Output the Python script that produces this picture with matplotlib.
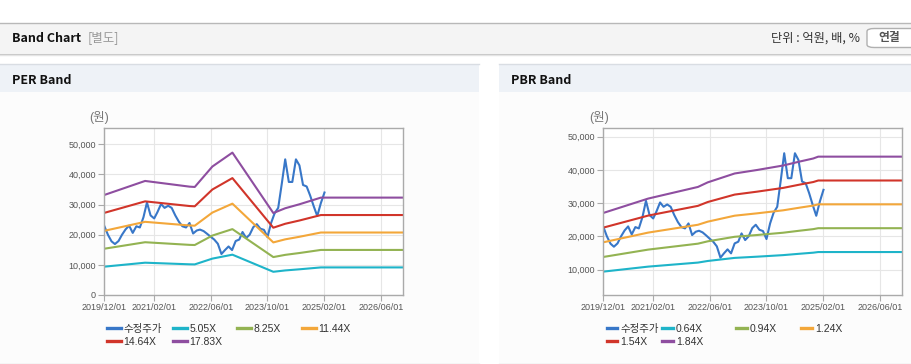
"""PER / PBR band chart."""
import matplotlib
matplotlib.use('Agg')
import matplotlib.pyplot as plt
import matplotlib.dates as mdates
from matplotlib.legend import Legend
from matplotlib.patches import Rectangle, FancyBboxPatch
from matplotlib.ticker import FuncFormatter
import pandas as pd

W, H = 912, 364

# adjusted price, monthly 2019/12 .. 2025/02
price_dates = pd.date_range('2019-12-01', '2025-02-01', freq='MS')
price = [22900, 20000, 17800, 16900, 17900, 20000, 21800, 23000, 20600, 22800,
         22400, 25800, 30700, 26400, 25400, 27500, 30200, 28900, 29600, 28900,
         26400, 24300, 22800, 22400, 23900, 20400, 21400, 21700, 21200, 20300,
         19300, 18400, 17000, 13600, 14900, 16100, 14900, 17900, 18400, 20900,
         18900, 20000, 22500, 23500, 22000, 21600, 19200, 23900, 27100, 28900,
         37000, 45000, 37500, 37500, 45000, 43000, 36500, 36000, 33000, 29400,
         26200, 30500, 34000]

# EPS used for the PER band
eps_dates = pd.to_datetime(['2019-12-01', '2020-11-15', '2021-12-01', '2022-01-15',
                            '2022-06-15', '2022-12-04', '2023-11-20', '2024-03-01',
                            '2024-07-01', '2024-10-01', '2025-01-01', '2026-12-01'])
eps = [1861, 2122, 2016, 2010, 2390, 2649, 1525, 1614, 1688, 1750, 1812, 1812]
per_mult = [5.05, 8.25, 11.44, 14.64, 17.83]

# BPS used for the PBR band
bps_dates = pd.to_datetime(['2019-12-01', '2020-12-20', '2022-02-20', '2022-05-15',
                            '2023-01-01', '2023-07-12', '2024-02-20', '2024-07-12',
                            '2024-11-05', '2024-12-18', '2026-12-01'])
bps = [14700, 17050, 18950, 19700, 21150, 21720, 22450, 23100, 23600, 23900, 23900]
pbr_mult = [0.64, 0.94, 1.24, 1.54, 1.84]

xticks = pd.to_datetime(['2019-12-01', '2021-02-01', '2022-06-01', '2023-10-01',
                         '2025-02-01', '2026-06-01'])

PRICE_C = '#3877c8'
BAND_C = ['#1eb4c9', '#93b352', '#f3a73a', '#d1352a', '#8e4ea0']

plt.rcParams['font.family'] = ['Liberation Sans', 'Noto Sans CJK KR', 'DejaVu Sans']

fig = plt.figure(figsize=(W / 100, H / 100), dpi=100)
fig.patch.set_facecolor('white')


def fx(px):
    return px / W


def fy(py):
    return 1 - py / H


def hline(y, x0, x1, color, lw=1.0):
    fig.add_artist(plt.Line2D([fx(x0), fx(x1)], [fy(y), fy(y)], color=color, lw=lw, zorder=-1))


def box(x0, y0, x1, y1, color):
    fig.patches.append(Rectangle((fx(x0), fy(y1)), fx(x1 - x0), fy(y0) - fy(y1),
                                 transform=fig.transFigure, facecolor=color,
                                 edgecolor='none', zorder=-5))


# page header bar
box(0, 23, W, 53, '#f4f4f4')
hline(22.5, 0, W, '#b8b8b8')
hline(53.5, 0, W, '#c4c4c4')
hline(54.5, 0, W, '#e4e4e4')
fig.text(fx(12), fy(38), 'Band Chart', fontsize=9, fontweight='bold',
         family=['Noto Sans CJK KR'], va='center', ha='left', color='#111111')
fig.text(fx(88), fy(38), '[별도]', fontsize=9, family=['Noto Sans CJK KR'],
         va='center', ha='left', color='#999999')
fig.text(fx(860), fy(38), '단위 : 억원, 배, %', fontsize=8.8, family=['Noto Sans CJK KR'],
         va='center', ha='right', color='#333333')
fig.patches.append(FancyBboxPatch((fx(867), fy(47.5)), fx(60), fy(28.5) - fy(47.5),
                                  boxstyle='round,pad=0,rounding_size=0.008',
                                  transform=fig.transFigure, facecolor='white',
                                  edgecolor='#b0b0b0', lw=1, zorder=-1))
fig.text(fx(889), fy(38), '연결', fontsize=8.5, fontweight='bold', family=['Noto Sans CJK KR'],
         va='center', ha='center', color='#555555')

# panels
for x0, x1, title in [(0, 479, 'PER Band'), (499, W, 'PBR Band')]:
    box(x0, 64, x1, 92, '#eef2f7')
    box(x0, 92, x1, 363, '#fcfcfc')
    hline(64, x0, x1, '#d9dde3')
    hline(363.5, x0, x1, '#cfcfcf')
    fig.text(fx(x0 + 12), fy(80), title, fontsize=9, fontweight='bold',
             family=['Noto Sans CJK KR'], va='center', ha='left', color='#111111')


def draw_band(ax_px, base_dates, base, mults, ylim, yticks, unit_x, leg_x, hlen):
    left, right = ax_px
    ax = fig.add_axes([fx(left), fy(295), fx(right - left), fy(128.3) - fy(295)])
    ax.set_zorder(3)
    ax.set_facecolor('white')
    # price goes underneath the bands
    pl, = ax.plot(price_dates, price, color=PRICE_C, lw=1.5, label='수정주가')
    lines = [pl]
    for m, c in zip(mults, BAND_C):
        ln, = ax.plot(base_dates, [m * v for v in base], color=c, lw=1.5, label=f'{m:.2f}X')
        lines.append(ln)

    ax.set_xlim(pd.Timestamp('2019-12-01'), pd.Timestamp('2026-12-04'))
    ax.set_ylim(*ylim)
    ax.set_xticks(xticks)
    ax.xaxis.set_major_formatter(mdates.DateFormatter('%Y/%m/%d'))
    ax.set_yticks(yticks)
    ax.yaxis.set_major_formatter(FuncFormatter(lambda v, p: f'{v:,.0f}'))
    ax.grid(True, color='#e6e6e6', lw=0.8)
    ax.set_axisbelow(True)
    for s in ax.spines.values():
        s.set_color('#aaaaaa')
        s.set_linewidth(1)
    ax.tick_params(length=4, color='#aaaaaa', labelsize=6.5, labelcolor='#555555', pad=2)

    fig.text(fx(unit_x), fy(118), '(원)', fontsize=9, color='#777777',
             va='center', ha='center')

    for c, x in enumerate(leg_x):
        hs = lines[c::4]
        leg = Legend(ax, hs, [h.get_label() for h in hs], loc='upper left',
                     bbox_to_anchor=(fx(x), fy(324)), bbox_transform=fig.transFigure,
                     frameon=False, borderpad=0, borderaxespad=0, handlelength=hlen,
                     handletextpad=0.25, labelspacing=0.3, fontsize=7.5,
                     labelcolor='#333333')
        for h in leg.legend_handles:
            h.set_linewidth(2.4)
        ax.add_artist(leg)
    return ax


draw_band((104.3, 402.7), eps_dates, eps, per_mult, (0, 55300),
          [0, 10000, 20000, 30000, 40000, 50000], 99, [107, 173, 237, 302], 1.3)
draw_band((603.3, 901.7), bps_dates, bps, pbr_mult, (2380, 52500),
          [10000, 20000, 30000, 40000, 50000], 599, [606.5, 662.5, 736.5, 801.5], 1.05)

fig.savefig('out.png', dpi=100)
